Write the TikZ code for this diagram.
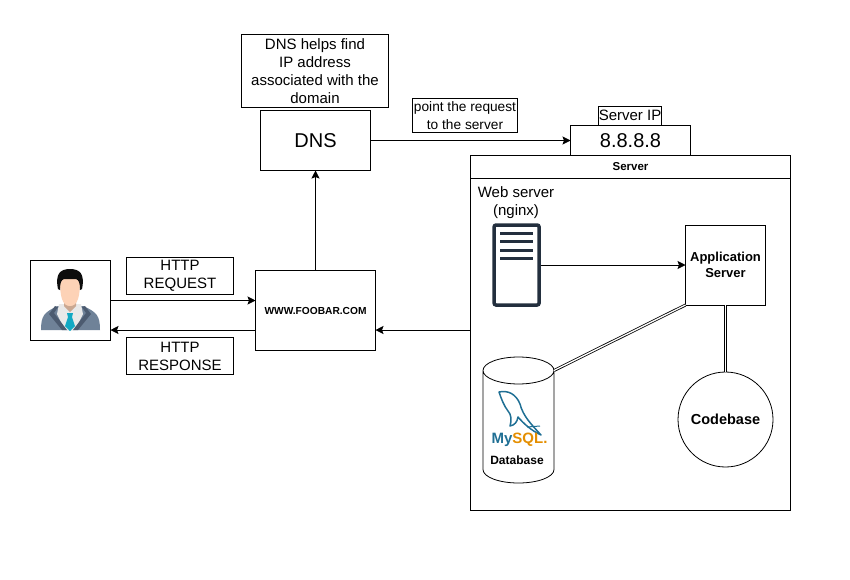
\documentclass[tikz,border=0pt]{standalone}
\usepackage{fontspec}
\setmainfont{Liberation Sans}
\usetikzlibrary{arrows.meta,positioning,shapes.geometric}

\definecolor{suit}{HTML}{6F8298}
\definecolor{lapel}{HTML}{4C5B70}
\definecolor{skin}{HTML}{FDD2B6}
\definecolor{shirt}{HTML}{E9E9E9}
\definecolor{tie}{HTML}{12A9C4}
\definecolor{rack}{HTML}{232F3E}
\definecolor{mysqlblue}{HTML}{1F6F94}
\definecolor{mysqlorange}{HTML}{E48E00}

\begin{document}
\begin{tikzpicture}[
  x=1pt, y=-1pt,
  box/.style={draw, line width=0.8pt, inner sep=0pt, outer sep=0pt, align=center, font=\fontsize{15}{18}\selectfont},
  bigbox/.style={box, font=\fontsize{20}{24}\selectfont},
  boldbox/.style={box, font=\fontsize{13}{16}\selectfont\bfseries},
  arrow/.style={-{Stealth[length=8pt,width=8pt,inset=1.5pt]}, line width=0.8pt},
  link/.style={double, double distance=1.3pt, line width=0.8pt},
  bar/.style={line width=3pt, draw=rack}
]
\useasboundingbox (0,0) rectangle (850,579);

\node[box, minimum width=80pt, minimum height=80pt] (user) at (70.5,300.5) {};
\node[box, minimum width=107pt, minimum height=37pt] (request) at (180,276) {HTTP\\REQUEST};
\node[box, minimum width=107pt, minimum height=37pt] (response) at (180,356) {HTTP\\RESPONSE};
\node[box, minimum width=120pt, minimum height=80pt, font=\fontsize{10.2}{12}\selectfont\bfseries] (www) at (315.5,310.5) {WWW.FOOBAR.COM};

\node[bigbox, minimum width=110pt, minimum height=60pt] (dns) at (315.5,140.5) {DNS};
\node[box, minimum width=147pt, minimum height=73pt] (dnsnote) at (315,71) {DNS helps find\\IP address\\associated with the\\domain};
\node[box, minimum width=105pt, minimum height=34pt, font=\fontsize{13.7}{18}\selectfont] (pointnote) at (465,115.5) {point the request\\to the server};

\node[bigbox, minimum width=120pt, minimum height=30pt] (ip) at (630.5,140.5) {8.8.8.8};
\node[box, minimum width=63pt, minimum height=19pt] (iplabel) at (630,115.5) {Server IP};

\node[box, minimum width=320pt, minimum height=332pt] (serverbody) at (630.5,344.5) {};
\node[box, minimum width=320pt, minimum height=23pt, font=\fontsize{11.5}{14}\selectfont\bfseries] (serverhead) at (630.5,167) {Server};
\node[font=\fontsize{15}{18}\selectfont, align=center, inner sep=0pt] (weblabel) at (516,202.5) {Web server\\(nginx)};

\node[draw=rack, line width=3.5pt, rounded corners=2pt, minimum width=45pt, minimum height=80pt, inner sep=0pt, outer sep=1.75pt] (web) at (516.6,265) {};
\draw[bar] (500,233) -- (533,233);
\draw[bar] (500,241.5) -- (533,241.5);
\draw[bar] (500,250) -- (533,250);
\draw[bar] (500,258) -- (533,258);

\node[boldbox, minimum width=80pt, minimum height=80pt] (app) at (725.5,265) {Application\\Server};
\node[draw, line width=0.8pt, cylinder, shape border rotate=90, aspect=0.38, minimum width=71pt, minimum height=126pt, inner sep=35.5pt, outer sep=0pt, anchor=shape center] (db) at (518.5,420) {};
\node[font=\fontsize{12}{14}\selectfont\bfseries, inner sep=0pt] (dblabel) at (517,460) {Database};
\node[draw, line width=0.8pt, circle, minimum size=95pt, inner sep=0pt, outer sep=0pt, font=\fontsize{14.5}{18}\selectfont\bfseries] (code) at (725.5,419.5) {Codebase};

\fill[suit] (41,330) .. controls (41,316) and (44,312) .. (58,306) -- (83,306) .. controls (97,312) and (100,316) .. (100,330) -- cycle;
\fill[shirt] (59,304) -- (81,304) -- (83,314) -- (75,330) -- (65,330) -- (57,314) -- cycle;
\fill[lapel] (58,307) -- (54,313) -- (67,330) -- (62,330) -- (49,314) -- (55,306) -- cycle;
\fill[lapel] (82,307) -- (86,313) -- (73,330) -- (78,330) -- (91,314) -- (85,306) -- cycle;
\fill[tie] (67,313) -- (73,313) -- (72,317) -- (75,326) -- (70,331) -- (65,326) -- (68,317) -- cycle;
\fill[black!20!skin] (64,298) -- (76,298) -- (76,306) -- (70,312) -- (64,306) -- cycle;
\fill[skin] (60,280) .. controls (60,296) and (62,306) .. (70,306) .. controls (78,306) and (80,296) .. (80,280) -- (80,276) -- (60,276) -- cycle;
\fill[black!95] (58,289) .. controls (55,274) and (60,269) .. (70,269) .. controls (80,269) and (85,274) .. (82,289) -- (80,290) .. controls (80,283) and (79,280) .. (76,279) -- (64,279) .. controls (61,280) and (60,283) .. (60,290) -- cycle;

\draw[mysqlblue, line width=1.5pt, line join=round] (499,392) .. controls (508,390) and (516,394) .. (520,404) .. controls (523,416) and (531,424) .. (541,435)
  .. controls (532,431) and (524,424) .. (518,417) .. controls (517,422) and (515,425) .. (510,426) .. controls (512,420) and (511,414) .. (508,411) .. controls (504,406) and (501,398) .. (499,392) -- cycle;
\draw[mysqlblue, line width=1pt] (527,427) -- (540,426);
\node[font=\fontsize{15}{16}\selectfont\bfseries, inner sep=0pt] (mysql) at (519.5,440) {\textcolor{mysqlblue}{My}\textcolor{mysqlorange}{SQL.}};

\draw[arrow] (user.east) -- (www.west |- user.east);
\draw[arrow] ([yshift=-19.5pt]www.west) -- ([yshift=-29.5pt]user.east);
\draw[arrow] (serverbody.west |- 0,330) -- ([yshift=-19.5pt]www.east);
\draw[arrow] (www.north) -- (dns.south);
\draw[arrow] (dns.east) -- (ip.west);
\draw[arrow] (web.east) -- (app.west);
\draw[link] (app.south west) -- (db.after top);
\draw[link] (app.south) -- (code.north);

\end{tikzpicture}
\end{document}
